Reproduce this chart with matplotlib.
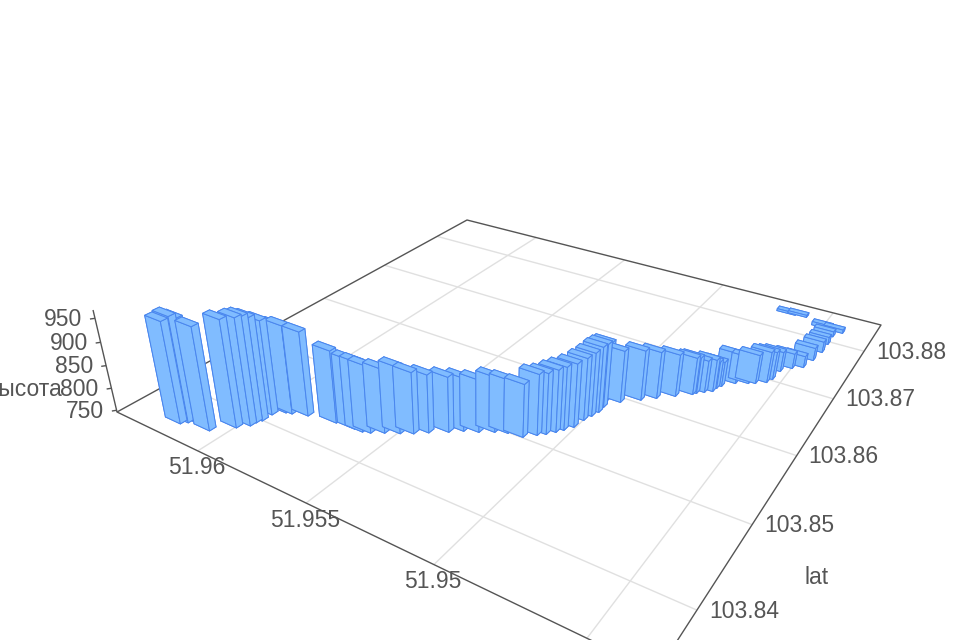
import numpy as np, matplotlib
matplotlib.use('Agg')
import matplotlib.pyplot as plt

lng = [51.96218,51.962,51.96187,51.96098,51.96033,51.96001,51.95998,51.95989,51.95988,51.95955,51.95932,51.95875,
51.9576,51.95681,51.95646,51.95618,51.95577,51.9553,51.9549,51.9545,
51.95394,51.95354,51.95306,51.9526,51.95218,51.95162,51.95127,51.95104,51.95082,51.95065,51.95045,51.95037,51.95026,51.95017,51.95018,51.95028,51.94982,
51.94926,51.94883,51.94831,
51.94783,51.94774,51.94752,51.94729,51.94725,51.94715,51.94679,51.94638,51.94616,51.94583,51.94572,51.94567,51.94536,51.94502,51.94487,51.94477,51.94477,
51.94479,51.94454,51.94504,51.94669,51.94623]
lat = [103.83615,103.83662,103.837,103.8368,103.83834,103.83919,103.83978,103.84027,103.84139,103.84227,103.84244,103.84297,
103.8435,103.84367,103.84371,103.84396,103.8446,103.84525,103.84585,103.84665,
103.84764,103.84844,103.84901,103.84974,103.85022,103.85042,103.8513,103.85183,103.85253,103.85315,103.85399,103.85535,103.85626,103.85712,103.85805,103.85922,103.85956,
103.86086,103.86188,103.86309,
103.86421,103.86456,103.86511,103.86565,103.86632,103.86688,103.86805,103.86869,103.86904,103.86975,103.87055,103.87231,103.87344,103.87417,103.87595,103.87791,103.87976,
103.88155,103.88278,103.8829,103.88398,103.88416]
height = [965,973,967,967,976,976,973,967,950,936,938,929,903,896,896,891,885,890,879,872,866,862,860,866,862,861,878,878,881,883,884,882,885,890,886,875,861,857,850,840,829,827,818,818,807,802,814,805,811,816,809,791,780,772,775,771,763,758,754,754,751,751]
lng_ticks = [51.96,51.955,51.95]
lng_grid = [51.96,51.955,51.95,51.945]
lat_ticks = [103.84,103.85,103.86,103.87,103.88]
z_ticks = [750,800,850,900,950]
lngmin,lngmax,latmin,latmax,zmin,zmax=51.943,51.9643,103.8340,103.8863,746.,967.
dlng,dlat=0.0008,0.0007

# camera fitted to the floor corners of the reference
src=[(0,0),(1,0),(0,1),(1,1)]; dst=[(657,672),(117,412),(881,325),(467,220)]
A=[]
for (u,v),(x,y) in zip(src,dst):
    A.append([u,v,1,0,0,0,-x*u,-x*v,-x]); A.append([0,0,0,u,v,1,-y*u,-y*v,-y])
H=np.linalg.svd(np.array(A,float))[2][-1].reshape(3,3)
H=H/(H[2]@np.array([1,0,1]))
Vx,Vy=480.,1957.
s=(310-412)/(Vy-310)
P=np.array([[H[0,0],H[0,1],s*Vx,H[0,2]],[H[1,0],H[1,1],s*Vy,H[1,2]],[H[2,0],H[2,1],s,H[2,2]]])
S=np.array([[1/(lngmax-lngmin),0,0,-lngmin/(lngmax-lngmin)],[0,1/(latmax-latmin),0,-latmin/(latmax-latmin)],[0,0,1/(zmax-zmin),-zmin/(zmax-zmin)],[0,0,0,1]])
C=P@S
def project(a,b,c):
    q=C@np.array([a,b,c,1.]); return q[0]/q[2],q[1]/q[2]

plt.rcParams['font.family']=['Liberation Sans','DejaVu Sans']
fig=plt.figure(figsize=(9.6,6.4),dpi=100)
ax=fig.add_axes([0,0,1,1],projection='3d'); ax.set_axis_off()
ax.patch.set_visible(False)
ax.computed_zorder=False
def get_proj():
    T=ax.transData.inverted().get_matrix()
    F=np.array([[1,0,0],[0,-1,640],[0,0,1.]])
    R=T@F@C
    return np.array([R[0],R[1],[0,0,0,-1.],R[2]])
ax.get_proj=get_proj

def line(xs,ys,zs,color,lw,z):
    ax.plot(xs,ys,zs,color=color,lw=lw,zorder=z,clip_on=False,solid_capstyle='butt')
for v in lng_grid:
    line([v,v],[latmin,latmax],[zmin,zmin],'#E0E0E0',1.0,1)
for v in lat_ticks:
    line([lngmin,lngmax],[v,v],[zmin,zmin],'#E0E0E0',1.0,1)
axc='#555555'
line([lngmin,lngmax,lngmax,lngmin,lngmin],[latmin,latmin,latmax,latmax,latmin],[zmin]*5,axc,1.0,2)
line([lngmax,lngmax],[latmin,latmin],[zmin,zmax],axc,1.0,2)
for v in z_ticks:
    line([lngmax,lngmax+0.0001],[latmin,latmin-0.0003],[v,v],axc,1.0,2)

w=[C[2]@np.array([a,b,zmin,1]) for a,b in zip(lng,lat)]
for k,i in enumerate(np.argsort(w)[::-1]):
    c=ax.bar3d(lng[i]-dlng/2,lat[i]-dlat/2,zmin,dlng,dlat,height[i]-zmin,color='#80BCFF',edgecolor='#4A86EE',linewidth=.7,shade=False)
    c.set_clip_on(False); c.set_zorder(10+k)

tc='#555555'; fs=16.5
def label(x,y,t,ha='center'):
    fig.text(x/960,1-y/640,t,color=tc,fontsize=fs,ha=ha,va='center')
for v in lng_ticks:
    x,y=project(v,latmin,zmin); label(x-1,y+17,f'{v:g}')
for v in lat_ticks:
    x,y=project(lngmin,v,zmin); label(x+47,y+1,f'{v:g}')
for v in z_ticks:
    x,y=project(lngmax,latmin,v); label(x-13,y+1,str(v),ha='right')
label(817,577,'lat')
label(62,390,'высота',ha='right')
fig.savefig('out.png',dpi=100)
